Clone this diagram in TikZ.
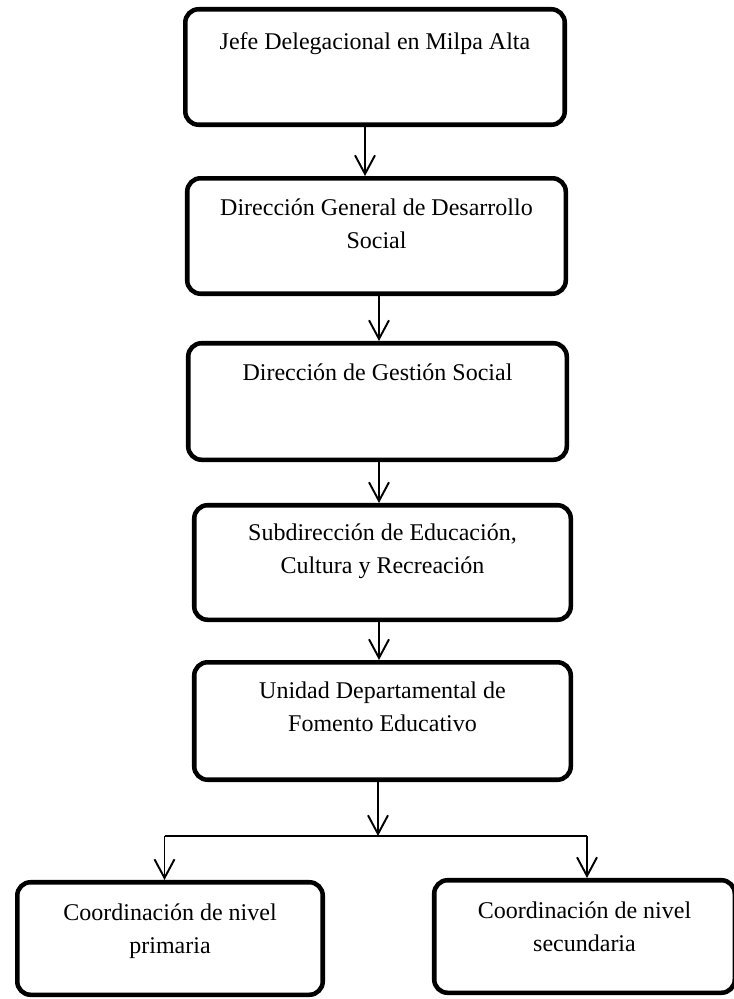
\documentclass[tikz,border=0pt]{standalone}
\usepackage{fontspec}
\setmainfont{Liberation Serif}
\usetikzlibrary{arrows.meta}
\begin{document}
\begin{tikzpicture}[x=0.75pt,y=-0.75pt,
  box/.style={draw=black, line width=3.4pt, rounded corners=10pt, inner sep=0pt},
  lbl/.style={anchor=north, inner sep=0pt, align=center, font=\fontsize{18}{24.75}\selectfont},
  conn/.style={draw=black, line width=1.45pt},
  arr/.style={conn, -{Straight Barb[length=14pt,width=15pt]}}]
\useasboundingbox (0,0) rectangle (733,999);
% boxes
\node[box, minimum width=284.6pt, minimum height=86.6pt] (b1) at (375,67) {};
\node[box, minimum width=283.9pt, minimum height=86.6pt] (b2) at (376.5,236) {};
\node[box, minimum width=283.9pt, minimum height=87.4pt] (b3) at (377.5,401.5) {};
\node[box, minimum width=282.4pt, minimum height=85.9pt] (b4) at (382.5,562.5) {};
\node[box, minimum width=282.4pt, minimum height=88.1pt] (b5) at (382.5,721) {};
\node[box, minimum width=229.1pt, minimum height=84.4pt] (b6) at (170,938.5) {};
\node[box, minimum width=225.4pt, minimum height=84.4pt] (b7) at (584.5,936.5) {};
% texts
\node[lbl] (t1) at ([yshift=-18pt]b1.north) {\rule{0pt}{13.5pt}Jefe Delegacional en Milpa Alta};
\node[lbl] (t2) at ([yshift=-15.75pt]b2.north) {\rule{0pt}{13.5pt}Dirección General de Desarrollo\\Social};
\node[lbl] (t3) at ([yshift=-15.75pt]b3.north) {\rule{0pt}{13.5pt}Dirección de Gestión Social};
\node[lbl] (t4) at ([yshift=-14.25pt]b4.north) {\rule{0pt}{13.5pt}Subdirección de Educación,\\Cultura y Recreación};
\node[lbl] (t5) at ([yshift=-15pt]b5.north) {\rule{0pt}{13.5pt}Unidad Departamental de\\Fomento Educativo};
\node[lbl] (t6) at ([yshift=-16.5pt]b6.north) {\rule{0pt}{13.5pt}Coordinación de nivel\\primaria};
\node[lbl] (t7) at ([yshift=-16.5pt]b7.north) {\rule{0pt}{13.5pt}Coordinación de nivel\\secundaria};
% connector coordinates
\coordinate (x1) at (365,0);
\coordinate (x2) at (379,0);
\coordinate (x3) at (379,0);
\coordinate (x4) at (379,0);
\coordinate (j) at (378,836);
\coordinate (hl) at (164.5,836);
\coordinate (hr) at (587,836);
% connectors
\draw[arr] (b1.south -| x1) -- (b2.north -| x1);
\draw[arr] (b2.south -| x2) -- (b3.north -| x2);
\draw[arr] (b3.south -| x3) -- (b4.north -| x3);
\draw[arr] (b4.south -| x4) -- (b5.north -| x4);
\draw[arr] (b5.south -| j) -- (j);
\draw[conn] (hl) -- (hr);
\draw[arr] (hl) -- (b6.north -| hl);
\draw[arr] (hr) -- (b7.north -| hr);
\end{tikzpicture}
\end{document}
